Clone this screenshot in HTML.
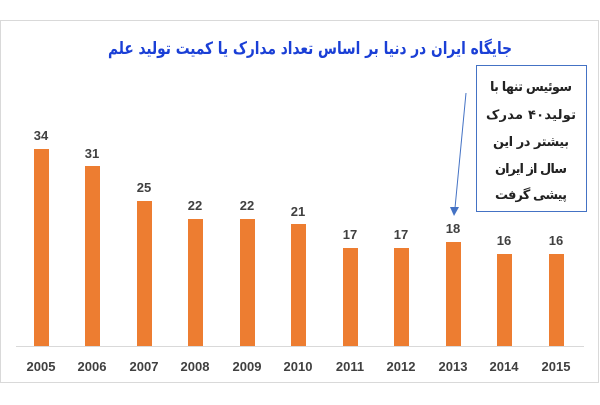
<!DOCTYPE html>
<html><head><meta charset="utf-8"><style>
body{margin:0;width:600px;height:400px;background:#fff;overflow:hidden;font-family:"Liberation Sans","Noto Sans CJK SC",sans-serif}
</style></head><body>
<svg width="600" height="400" xmlns="http://www.w3.org/2000/svg">
<rect x="0.5" y="20.5" width="598" height="362" fill="#fff" stroke="#d9d9d9"/>
<text x="310" y="54" text-anchor="middle" font-family="'DejaVu Sans',sans-serif" font-weight="bold" font-size="17" fill="#1a3fd6" direction="rtl" textLength="404" lengthAdjust="spacingAndGlyphs">جایگاه ایران در دنیا بر اساس  تعداد مدارک یا کمیت  تولید علم</text>
<line x1="16" y1="346.5" x2="584" y2="346.5" stroke="#d9d9d9"/>
<g fill="#ed7d31">
<rect x="34" y="149" width="15" height="197"/>
<rect x="85" y="166" width="15" height="180"/>
<rect x="137" y="201" width="15" height="145"/>
<rect x="188" y="219" width="15" height="127"/>
<rect x="240" y="219" width="15" height="127"/>
<rect x="291" y="224" width="15" height="122"/>
<rect x="343" y="248" width="15" height="98"/>
<rect x="394" y="248" width="15" height="98"/>
<rect x="446" y="242" width="15" height="104"/>
<rect x="497" y="254" width="15" height="92"/>
<rect x="549" y="254" width="15" height="92"/>
</g>
<g font-size="13" fill="#404040" text-anchor="middle" font-weight="bold">
<text x="41" y="140">34</text><text x="92" y="158">31</text><text x="144" y="192">25</text>
<text x="195" y="210">22</text><text x="247" y="210">22</text><text x="298" y="216">21</text>
<text x="350" y="239">17</text><text x="401" y="239">17</text><text x="453" y="233">18</text>
<text x="504" y="245">16</text><text x="556" y="245">16</text>
<text x="41" y="371">2005</text><text x="92" y="371">2006</text><text x="144" y="371">2007</text>
<text x="195" y="371">2008</text><text x="247" y="371">2009</text><text x="298" y="371">2010</text>
<text x="350" y="371">2011</text><text x="401" y="371">2012</text><text x="453" y="371">2013</text>
<text x="504" y="371">2014</text><text x="556" y="371">2015</text>
</g>
<rect x="476.5" y="65.5" width="110" height="146" fill="#fff" stroke="#4472c4"/>
<g font-family="'DejaVu Sans',sans-serif" font-weight="bold" font-size="13" fill="#222" text-anchor="middle" direction="rtl" lengthAdjust="spacingAndGlyphs">
<text x="531" y="91" textLength="82">سوئیس تنها با</text>
<text x="531" y="119" textLength="90">تولید۴۰ مدرک</text>
<text x="531" y="146" textLength="76">بیشتر در این</text>
<text x="531" y="173" textLength="72">سال از ایران</text>
<text x="531" y="199" textLength="72">پیشی گرفت</text>
</g>
<line x1="466" y1="93" x2="455" y2="208" stroke="#4472c4" stroke-width="1"/>
<polygon points="450,207 459,207 454,216" fill="#4472c4"/>
</svg>
</body></html>
